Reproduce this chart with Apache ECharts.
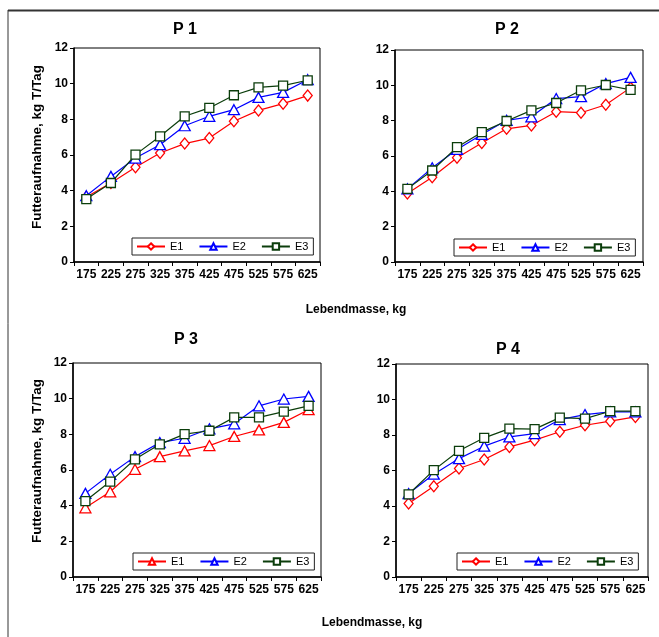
<!DOCTYPE html>
<html><head><meta charset="utf-8">
<script src="https://cdn.jsdelivr.net/npm/echarts@6/dist/echarts.min.js"></script>
<style>html,body{margin:0;padding:0;background:#fff}#c{width:659px;height:637px}</style>
</head><body><div id="c"></div>
<script>
const categories = ['175','225','275','325','375','425','475','525','575','625'];
const yMin = 0, yMax = 12, yInterval = 2;
const seriesNames = ['E1','E2','E3'];
const panelTitles = ['P 1','P 2','P 3','P 4'];
const xAxisTitle = 'Lebendmasse, kg';
const yAxisTitle = 'Futteraufnahme, kg T/Tag';

const p1E1 = [3.64, 4.43, 5.31, 6.11, 6.64, 6.95, 7.89, 8.50, 8.88, 9.33];
const p1E2 = [3.72, 4.80, 5.83, 6.58, 7.64, 8.17, 8.54, 9.23, 9.51, 10.22];
const p1E3 = [3.53, 4.43, 6.02, 7.05, 8.17, 8.64, 9.35, 9.79, 9.89, 10.19];

const p2E1 = [3.88, 4.80, 5.90, 6.73, 7.54, 7.73, 8.51, 8.45, 8.90, 9.87];
const p2E2 = [4.14, 5.33, 6.37, 7.22, 8.02, 8.22, 9.25, 9.36, 10.10, 10.45];
const p2E3 = [4.14, 5.18, 6.50, 7.35, 7.98, 8.58, 9.00, 9.72, 10.02, 9.74];

const p3E1 = [3.88, 4.78, 6.04, 6.75, 7.07, 7.37, 7.88, 8.25, 8.67, 9.38];
const p3E2 = [4.69, 5.76, 6.75, 7.54, 7.78, 8.31, 8.59, 9.60, 9.98, 10.13];
const p3E3 = [4.26, 5.35, 6.60, 7.44, 8.01, 8.20, 8.95, 8.95, 9.27, 9.60];

const p4E1 = [4.14, 5.11, 6.11, 6.62, 7.33, 7.71, 8.18, 8.55, 8.78, 9.02];
const p4E2 = [4.70, 5.79, 6.67, 7.37, 7.89, 8.08, 8.87, 9.15, 9.30, 9.30];
const p4E3 = [4.66, 6.02, 7.11, 7.84, 8.36, 8.33, 8.98, 8.92, 9.34, 9.34];

const panelData = [[p1E1,p1E2,p1E3],[p2E1,p2E2,p2E3],[p3E1,p3E2,p3E3],[p4E1,p4E2,p4E3]];
const panelSymbols = [
  ['diamond','triangle','rect'],
  ['diamond','triangle','rect'],
  ['triangle','triangle','rect'],
  ['diamond','triangle','rect']
];
const colors = ['#FF0000','#0000FF','#0B3D0B'];
const symSizes = {diamond:[9,11], triangle:[11,10], rect:[9,9]};

const FONT = '"Liberation Sans", Arial, sans-serif';
const grids = [
  {left:74, top:48, width:246, height:214},
  {left:395, top:50, width:248, height:212},
  {left:73, top:363, width:248, height:214},
  {left:396, top:364, width:252, height:213}
];
const legendPos = [
  {left:132, top:238},
  {left:454, top:239},
  {left:133, top:553},
  {left:457, top:553}
];

const option = {
  animation:false,
  backgroundColor:'#fff',
  grid: grids.map(g => Object.assign({show:true, borderColor:'#000', borderWidth:1, backgroundColor:'transparent', containLabel:false}, g)),
  xAxis: grids.map((g,i) => ({
    type:'category', gridIndex:i, data:categories, boundaryGap:true,
    axisLine:{show:true, lineStyle:{color:'#000', width:1.5}},
    axisTick:{show:true, inside:false, length:4, lineStyle:{color:'#000', width:1}, alignWithLabel:false},
    axisLabel:{color:'#000', fontFamily:FONT, fontSize:12, fontWeight:'bold', margin:7, interval:0},
    splitLine:{show:false}
  })),
  yAxis: grids.map((g,i) => ({
    type:'value', gridIndex:i, min:yMin, max:yMax, interval:yInterval,
    axisLine:{show:true, lineStyle:{color:'#000', width:1.5}},
    axisTick:{show:true, inside:false, length:4, lineStyle:{color:'#000', width:1}},
    axisLabel:{color:'#000', fontFamily:FONT, fontSize:12, fontWeight:'bold', margin:6},
    splitLine:{show:false}
  })),
  legend: legendPos.map((p,i) => ({
    left:p.left, top:p.top, orient:'horizontal',
    data: seriesNames.map(n => 'P'+(i+1)+' '+n),
    formatter: name => name.split(' ')[1],
    selectedMode:false,
    borderColor:'#222', borderWidth:1, backgroundColor:'#fff',
    padding:[3,5,3,4], itemGap:15, itemWidth:28, itemHeight:8,
    textStyle:{fontFamily:FONT, fontSize:11, color:'#000'}
  })),
  series: [],
  graphic: []
};

panelData.forEach((arr, pi) => {
  arr.forEach((vals, si) => {
    const sym = panelSymbols[pi][si];
    option.series.push({
      type:'line', name:'P'+(pi+1)+' '+seriesNames[si],
      xAxisIndex:pi, yAxisIndex:pi, data:vals,
      symbol:sym, symbolSize:symSizes[sym], showAllSymbol:true,
      lineStyle:{color:colors[si], width:1.2},
      itemStyle:{color:'#fff', borderColor:colors[si], borderWidth:1.3},
      z: 2+si
    });
  });
});

const titlePos = [[185,30],[507,30],[186,340],[508,350]];
titlePos.forEach((p,i) => {
  option.graphic.push({type:'text', x:p[0], y:p[1],
    style:{text:panelTitles[i], fill:'#000', font:'bold 16px '+FONT, align:'center', verticalAlign:'middle'}});
});
[[356,310],[372,623]].forEach(p => {
  option.graphic.push({type:'text', x:p[0], y:p[1],
    style:{text:xAxisTitle, fill:'#000', font:'bold 12px '+FONT, align:'center', verticalAlign:'middle'}});
});
[[37,147],[37,461]].forEach(p => {
  option.graphic.push({type:'text', x:p[0], y:p[1], rotation:Math.PI/2,
    style:{text:yAxisTitle, fill:'#000', font:'bold 13.5px '+FONT, align:'center', verticalAlign:'middle'}});
});
option.graphic.push({type:'line', shape:{x1:8, y1:10.5, x2:659, y2:10.5}, style:{stroke:'#333', lineWidth:2}});
option.graphic.push({type:'line', shape:{x1:8, y1:10, x2:8, y2:637}, style:{stroke:'#333', lineWidth:1}});

const chart = echarts.init(document.getElementById('c'), null, {renderer:'canvas'});
chart.setOption(option);
</script></body></html>
